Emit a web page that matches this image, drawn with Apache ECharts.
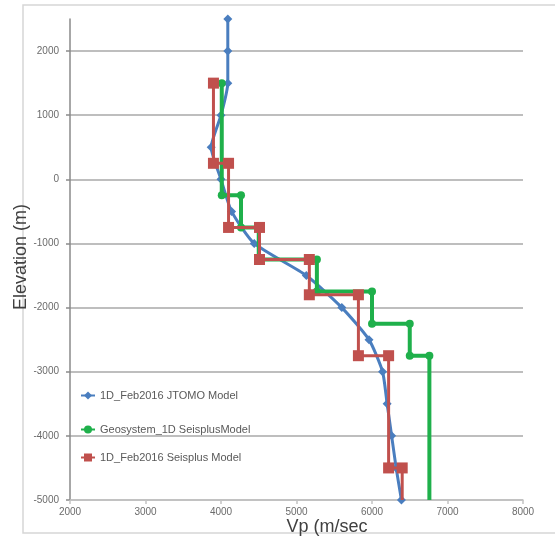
<!DOCTYPE html>
<html>
<head>
<meta charset="utf-8">
<script src="https://cdn.jsdelivr.net/npm/echarts@6/dist/echarts.min.js"></script>
<style>html,body{margin:0;padding:0;background:#fff;}#c{width:555px;height:537px;}</style>
</head>
<body>
<div id="c"></div>
<script>
// Series names
const names = ['1D_Feb2016 JTOMO Model', 'Geosystem_1D SeisplusModel', '1D_Feb2016 Seisplus Model'];
// 1D_Feb2016 JTOMO Model
const vpJ   = [4090, 4090, 4090, 4000, 3870, 4000, 4140, 4440, 5130, 5600, 5960, 6140, 6200, 6260, 6320, 6390];
const elevJ = [2500, 2000, 1500, 1000,  500,    0, -500,-1000,-1500,-2000,-2500,-3000,-3500,-4000,-4500,-5000];
// Geosystem_1D SeisplusModel
const vpG   = [4010, 4010, 4265, 4265, 4500, 4500, 5270, 5270, 6000, 6000, 6500, 6500, 6760, 6760];
const elevG = [1500, -250, -250, -750, -750,-1250,-1250,-1750,-1750,-2250,-2250,-2750,-2750,-5000];
// 1D_Feb2016 Seisplus Model
const vpR   = [3900, 3900, 4100, 4100, 4510, 4510, 5170, 5170, 5820, 5820, 6220, 6220, 6400, 6400];
const elevR = [1500,  250,  250, -750, -750,-1250,-1250,-1800,-1800,-2750,-2750,-4500,-4500,-5000];
// Axis ticks
const yTicks = [-5000, -4000, -3000, -2000, -1000, 0, 1000, 2000];
const xTicks = [2000, 3000, 4000, 5000, 6000, 7000, 8000];

function pts(xs, ys, hideLast) {
  return xs.map((x, i) => {
    const item = { value: [x, ys[i]] };
    if (hideLast && i === xs.length - 1) item.symbol = 'none';
    return item;
  });
}

const chart = echarts.init(document.getElementById('c'), null, { renderer: 'canvas' });
const FONT = 'Liberation Sans';
const plain = v => String(v);
const legendBase = {
  left: 80, padding: 0, itemWidth: 14, itemHeight: 10, itemGap: 0,
  textStyle: { fontFamily: FONT, fontSize: 11, color: '#595959' }
};
chart.setOption({
  animation: false,
  backgroundColor: '#ffffff',
  grid: { left: 70, right: 32, top: 19, bottom: 37, containLabel: false },
  xAxis: {
    type: 'value', min: 2000, max: 8000, interval: 1000,
    axisLine: { onZero: false, lineStyle: { color: '#c4c4c4', width: 1.5 } },
    axisTick: { show: true, length: 4, lineStyle: { color: '#c4c4c4', width: 1.5 }, customValues: xTicks },
    axisLabel: { customValues: xTicks, formatter: plain, fontFamily: FONT, fontSize: 10, color: '#6b6b6b', margin: 7 },
    splitLine: { show: false }
  },
  yAxis: {
    type: 'value', min: -5000, max: 2500,
    axisLine: { show: true, onZero: false, lineStyle: { color: '#8a8a8a', width: 1.5 } },
    axisTick: { show: true, length: 4, lineStyle: { color: '#8a8a8a', width: 1.5 }, customValues: yTicks },
    axisLabel: { customValues: yTicks, formatter: plain, fontFamily: FONT, fontSize: 10, color: '#6b6b6b', margin: 11 },
    splitLine: { show: true, lineStyle: { color: '#a8a8a8', width: 1.5 } }
  },
  legend: [
    Object.assign({}, legendBase, { top: 390, data: [names[0]] }),
    Object.assign({}, legendBase, { top: 424, data: [names[1]] }),
    Object.assign({}, legendBase, { top: 452, data: [names[2]] })
  ],
  graphic: [
    { type: 'rect', shape: { x: 23, y: 5, width: 545, height: 528 },
      style: { fill: 'none', stroke: '#d6d6d6', lineWidth: 1.5 }, silent: true, z: -10 },
    { type: 'text', x: 21, y: 257, rotation: Math.PI / 2,
      style: { text: 'Elevation (m)', fontFamily: FONT, fontSize: 18, fill: '#404040', align: 'center', verticalAlign: 'middle' } },
    { type: 'text', x: 327, y: 527,
      style: { text: 'Vp (m/sec', fontFamily: FONT, fontSize: 18, fill: '#404040', align: 'center', verticalAlign: 'middle' } }
  ],
  series: [
    {
      name: names[0], type: 'line', data: pts(vpJ, elevJ, false),
      smooth: 0.2, symbol: 'diamond', symbolSize: 9,
      lineStyle: { color: '#4a7ebf', width: 3 }, itemStyle: { color: '#4a7ebf' }, z: 2
    },
    {
      name: names[1], type: 'line', data: pts(vpG, elevG, true),
      symbol: 'circle', symbolSize: 8,
      lineStyle: { color: '#1fb04b', width: 4 }, itemStyle: { color: '#1fb04b' }, z: 3
    },
    {
      name: names[2], type: 'line', data: pts(vpR, elevR, true),
      symbol: 'rect', symbolSize: 11,
      lineStyle: { color: '#c0504d', width: 3 }, itemStyle: { color: '#c0504d' }, z: 4
    }
  ]
});
</script>
</body>
</html>
